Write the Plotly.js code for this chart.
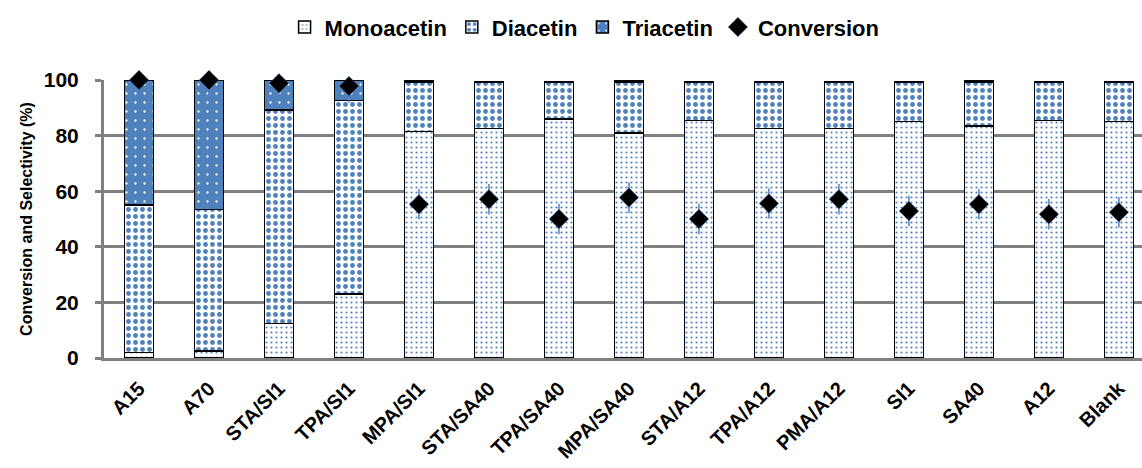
<!DOCTYPE html>
<html>
<head>
<meta charset="utf-8">
<script src="https://cdn.plot.ly/plotly-3.0.1.min.js"></script>
<style>html,body{margin:0;padding:0;background:#fff;}#chart{width:1142px;height:468px;}</style>
</head>
<body>
<div id="chart"></div>
<script>
const categories = ['A15','A70','STA/SI1','TPA/SI1','MPA/SI1','STA/SA40','TPA/SA40','MPA/SA40','STA/A12','TPA/A12','PMA/A12','SI1','SA40','A12','Blank'];
const monoacetin = [2, 2.5, 12.5, 23, 81.5, 82.5, 86, 81, 85.5, 82.5, 82.5, 85, 83.5, 85.5, 85];
const diacetin   = [53, 51, 76.7, 69.6, 17.7, 16.7, 13.2, 18.2, 13.7, 16.7, 16.7, 14.2, 15.7, 13.7, 14.2];
const triacetin  = [45, 46.5, 10.8, 7.4, 0.8, 0.3, 0.3, 0.8, 0.3, 0.3, 0.3, 0.3, 0.5, 0.3, 0.3];
const conversion = [100, 100, 98.8, 97.8, 55.3, 57.1, 50, 57.7, 50, 55.6, 57.1, 52.9, 55.3, 51.7, 52.4];
const convError  = [6.5, 6.5, 6, 6, 5.5, 5.5, 5.5, 5.5, 5.5, 5.5, 5.5, 5.5, 5.5, 5.5, 5.5];
const yTicks = [0, 20, 40, 60, 80, 100];

const blue = '#4f81bd';
const font = 'Liberation Sans, Arial, sans-serif';
const barLine = {color: '#000', width: 1.5};

const traces = [
  {type: 'bar', name: 'Monoacetin', x: categories, y: monoacetin,
   marker: {color: '#fff', line: barLine,
            pattern: {shape: '.', fgcolor: blue, bgcolor: '#fff', size: 5, solidity: 0.15, fillmode: 'replace'}}},
  {type: 'bar', name: 'Diacetin', x: categories, y: diacetin,
   marker: {color: '#fff', line: barLine,
            pattern: {shape: '.', fgcolor: blue, bgcolor: '#fff', size: 7, solidity: 0.38, fillmode: 'replace'}}},
  {type: 'bar', name: 'Triacetin', x: categories, y: triacetin,
   marker: {color: blue, line: barLine,
            pattern: {shape: '.', fgcolor: '#fff', bgcolor: blue, size: 9, solidity: 0.05, fillmode: 'replace'}}},
  {type: 'scatter', mode: 'markers', name: 'Conversion', x: categories, y: conversion,
   cliponaxis: false,
   marker: {symbol: 'diamond', size: 15, color: '#000', line: {color: blue, width: 0.5}},
   error_y: {type: 'data', array: convError, visible: true, color: blue, thickness: 1.5, width: 0},
   error_x: {type: 'constant', value: 0.2, visible: true, color: blue, thickness: 1.5, width: 0}}
];

const layout = {
  width: 1142, height: 468,
  margin: {l: 104, r: 0, t: 80, b: 110, pad: 0},
  paper_bgcolor: '#fff', plot_bgcolor: '#fff',
  barmode: 'stack', bargap: 0.59,
  font: {family: font, size: 20, color: '#000', weight: 'bold'},
  showlegend: true,
  legend: {orientation: 'h', x: 0.463, xanchor: 'center', y: 1.19, yanchor: 'middle',
           font: {family: font, size: 22, color: '#000', weight: 'bold'}, traceorder: 'normal',
           itemwidth: 30},
  xaxis: {type: 'category', range: [-0.5, 14.33], showgrid: false,
          showline: true, linecolor: '#808080', linewidth: 3,
          ticks: '', tickangle: -45, ticklabelstandoff: 8,
          tickfont: {family: font, size: 20, color: '#000', weight: 'bold'}},
  yaxis: {range: [0, 100], tickvals: yTicks, ticktext: yTicks.map(String),
          showgrid: true, gridcolor: '#808080', gridwidth: 3,
          showline: true, linecolor: '#808080', linewidth: 3,
          ticks: 'outside', ticklen: 6, tickcolor: '#808080', tickwidth: 3,
          zeroline: false, ticklabelstandoff: 12,
          tickfont: {family: font, size: 21, color: '#000', weight: 'bold'},
          title: {text: 'Conversion and Selectivity (%)', standoff: 8,
                  font: {family: font, size: 16, color: '#000', weight: 'bold'}}}
};

Plotly.newPlot('chart', traces, layout, {displayModeBar: false, staticPlot: true});
</script>
</body>
</html>
